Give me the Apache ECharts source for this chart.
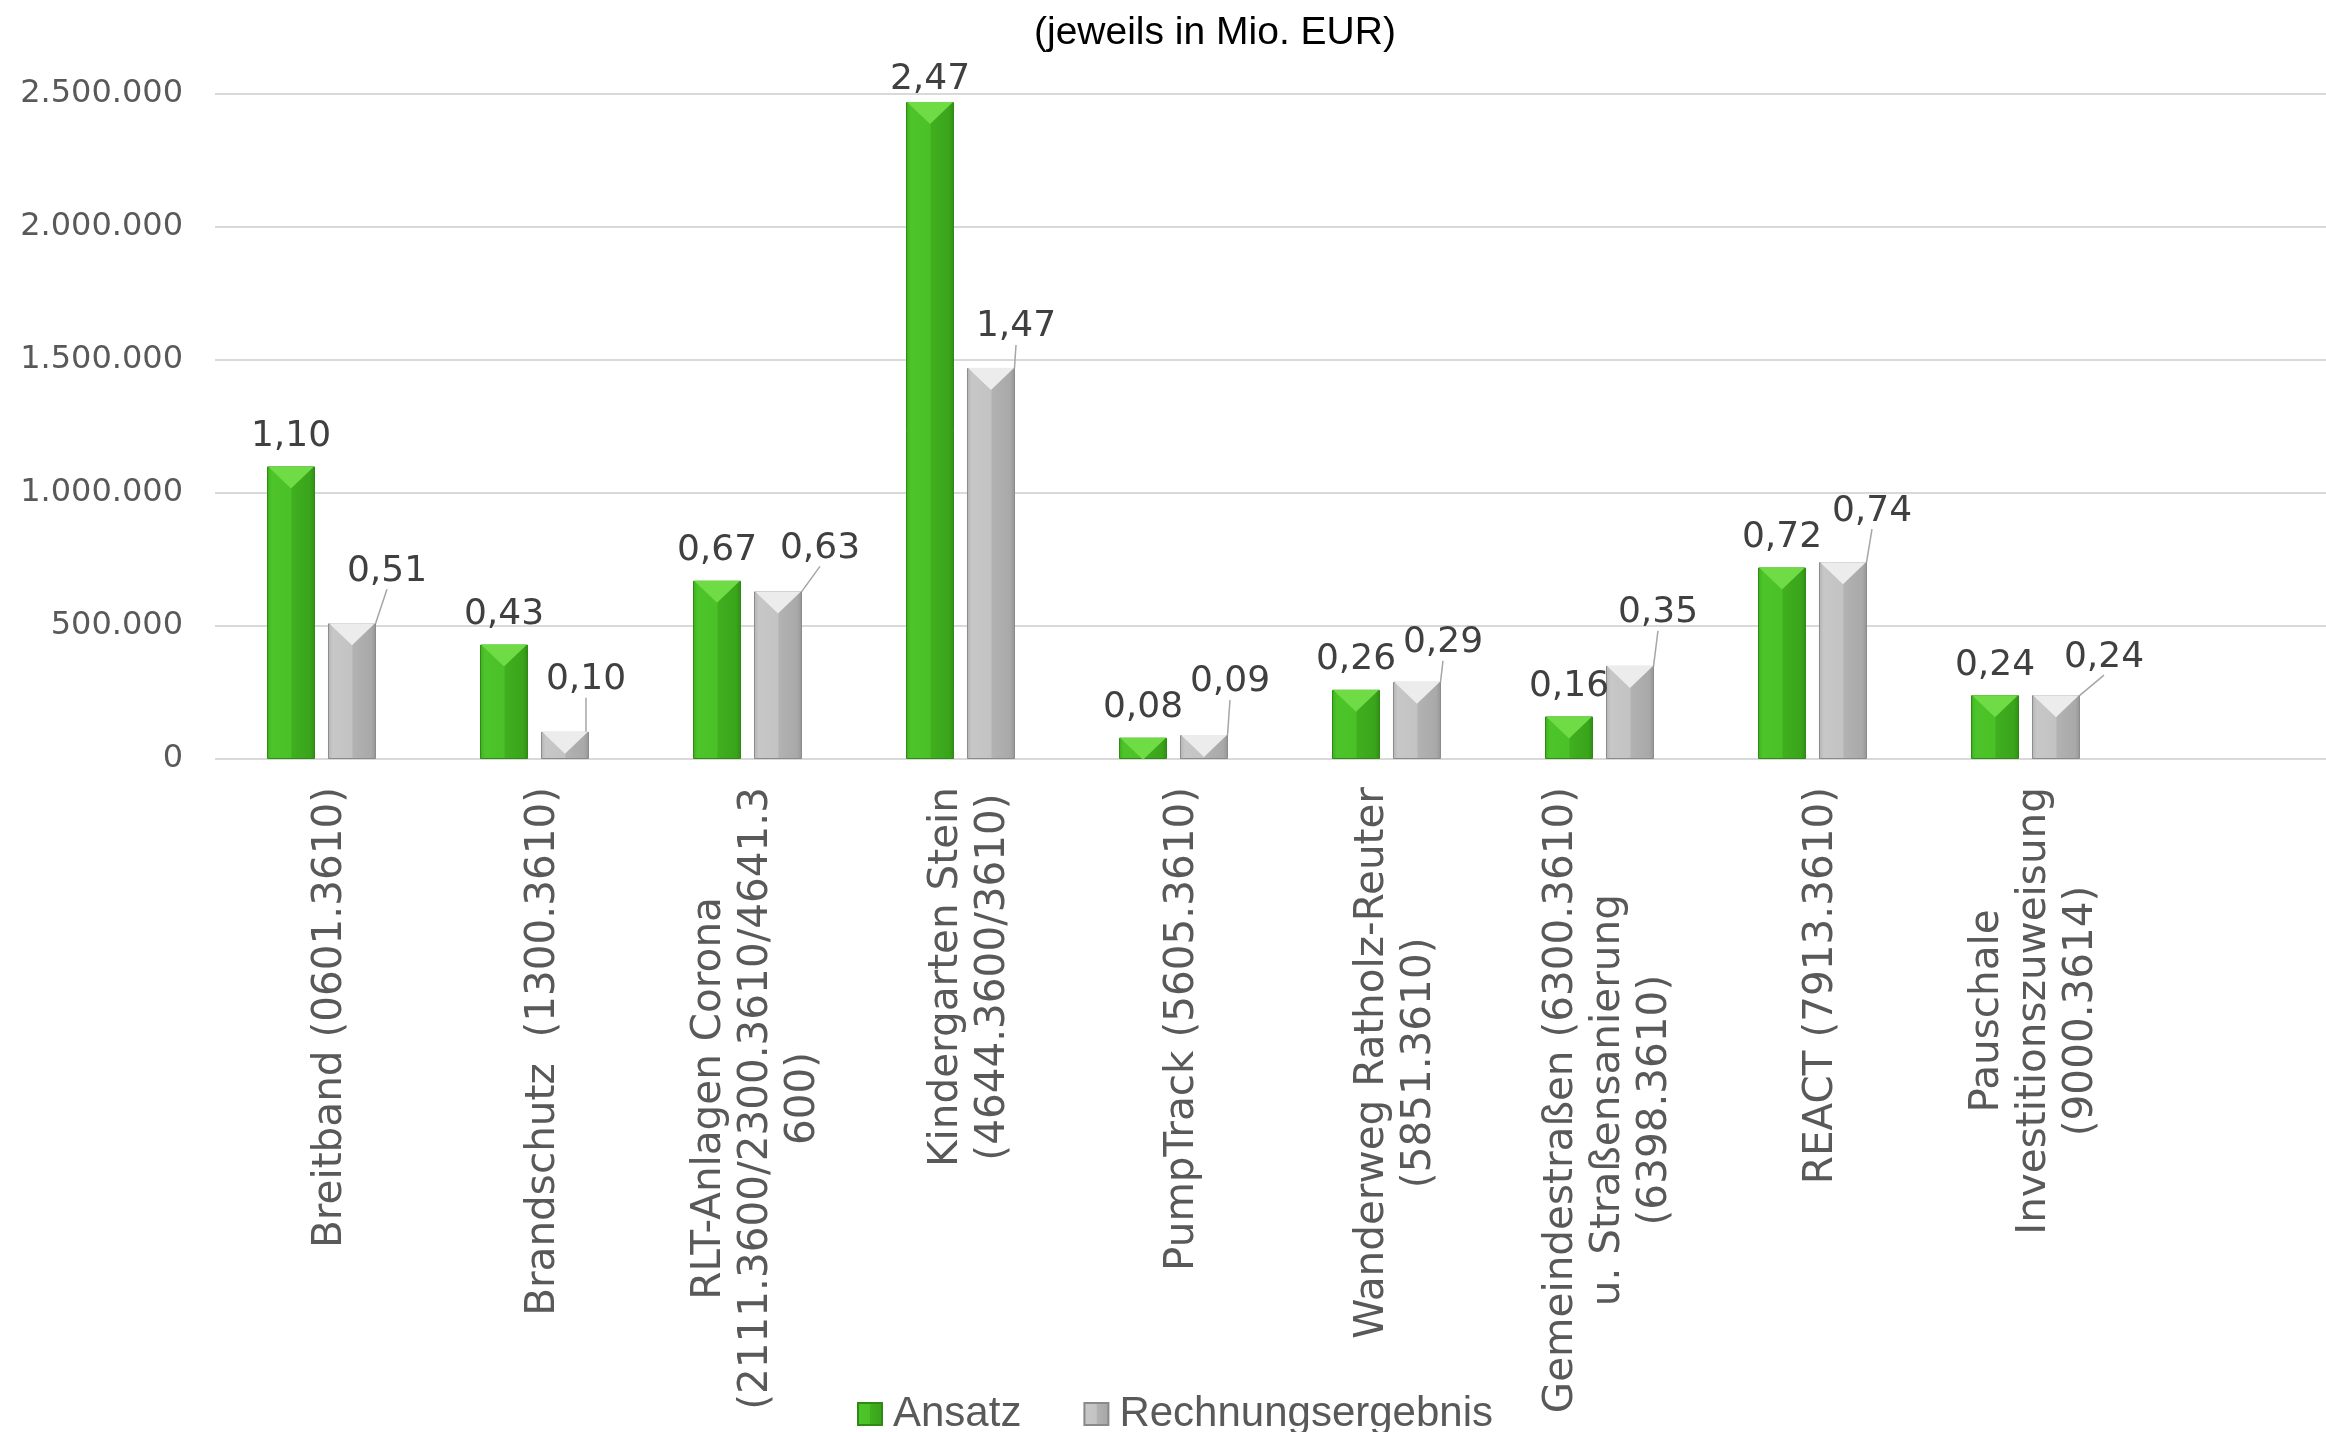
<!DOCTYPE html>
<html>
<head>
<meta charset="utf-8">
<script src="https://cdn.jsdelivr.net/npm/echarts@6/dist/echarts.min.js"></script>
<style>
  html, body { margin: 0; padding: 0; background: #ffffff; }
  #chart { width: 2326px; height: 1432px; }
</style>
</head>
<body>
<div id="chart"></div>
<script>
// ---- data ----
const categories = [
  "Breitband (0601.3610)",
  "Brandschutz  (1300.3610)",
  "RLT-Anlagen Corona\n(2111.3600/2300.3610/4641.3\n600)",
  "Kindergarten Stein\n(4644.3600/3610)",
  "PumpTrack (5605.3610)",
  "Wanderweg Ratholz-Reuter\n(5851.3610)",
  "Gemeindestraßen (6300.3610)\nu. Straßensanierung\n(6398.3610)",
  "REACT (7913.3610)",
  "Pauschale\nInvestitionszuweisung\n(9000.3614)"
];
const ansatz = [1100000, 430000, 670000, 2470000, 80000, 260000, 160000, 720000, 240000];
const rechnungsergebnis = [510000, 102000, 630000, 1470000, 90000, 290000, 350000, 740000, 240000];
const seriesNames = ["Ansatz", "Rechnungsergebnis"];
const titleText = "(jeweils in Mio. EUR)";
const yMin = 0, yMax = 2500000, yInterval = 500000;

// label shifts (label layout only)
const greenLabelShift = [[0,0],[0,0],[0,0],[0,8],[0,0],[0,0],[0,0],[0,0],[0,0]];
const grayLabelShift = [[35,-22],[21,-22],[42,-13],[25,-11],[26,-23],[26,-9],[28,-23],[29,-21],[48,-8]];

const fmtMio = v => (v / 1e6).toFixed(2).replace('.', ',');
const fmtThousands = v => String(v).replace(/\B(?=(\d{3})+(?!\d))/g, '.');

const greenGrad = new echarts.graphic.LinearGradient(0, 0, 1, 0, [
  {offset: 0, color: '#3fae1e'}, {offset: 0.1, color: '#4dc52a'},
  {offset: 0.5, color: '#4ac227'}, {offset: 0.52, color: '#40af1f'},
  {offset: 0.9, color: '#3aa41b'}, {offset: 1, color: '#2f8c16'}
]);
const grayGrad = new echarts.graphic.LinearGradient(0, 0, 1, 0, [
  {offset: 0, color: '#b3b3b3'}, {offset: 0.1, color: '#c7c7c7'},
  {offset: 0.5, color: '#c3c3c3'}, {offset: 0.52, color: '#b2b2b2'},
  {offset: 0.9, color: '#a9a9a9'}, {offset: 1, color: '#959595'}
]);

const chart = echarts.init(document.getElementById('chart'), null, {renderer: 'canvas'});

const dataLabel = {
  show: true, position: 'top', distance: 12,
  fontFamily: 'DejaVu Sans', fontSize: 36, color: '#404040',
  formatter: p => fmtMio(p.value)
};

chart.setOption({
  animation: false,
  backgroundColor: '#ffffff',
  title: {
    text: titleText, left: 1034, top: 14, padding: 0,
    textStyle: {fontFamily: 'Liberation Sans', fontSize: 39, fontWeight: 'normal', color: '#000000'}
  },
  legend: {
    data: seriesNames, left: 852, top: 1388, icon: 'rect',
    itemWidth: 24, itemHeight: 22, itemGap: 62,
    textStyle: {fontFamily: 'Liberation Sans', fontSize: 42, color: '#595959', padding: [0, 0, 0, 6]}
  },
  grid: [
    {left: 215, right: 0, top: 94, bottom: 673, containLabel: false},
    {left: 215, width: 1917, top: 94, bottom: 673, containLabel: false}
  ],
  xAxis: [
    {gridIndex: 0, type: 'value', show: false, min: 0, max: 1},
    {
      gridIndex: 1, type: 'category', data: categories,
      axisLine: {show: false},
      axisTick: {show: false},
      axisLabel: {
        interval: 0, rotate: 90, margin: 28, padding: [18, 0, 0, 0],
        formatter: v => v.split('\n').map(l => '{c|' + l + '}').join('\n'),
        rich: {c: {fontFamily: 'DejaVu Sans', fontSize: 40.5, lineHeight: 47, color: '#595959', align: 'center'}}
      }
    }
  ],
  yAxis: [
    {
      gridIndex: 0, type: 'value', min: yMin, max: yMax, interval: yInterval,
      axisLine: {show: false}, axisTick: {show: false},
      splitLine: {lineStyle: {color: '#d9d9d9', width: 2}},
      axisLabel: {fontFamily: 'DejaVu Sans', fontSize: 32, color: '#595959', margin: 32, padding: [6, 0, 0, 0], formatter: fmtThousands}
    },
    {
      gridIndex: 1, type: 'value', min: yMin, max: yMax, interval: yInterval,
      axisLine: {show: false}, axisTick: {show: false}, axisLabel: {show: false},
      splitLine: {show: false}
    }
  ],
  series: [
    {
      name: seriesNames[0], type: 'bar', xAxisIndex: 1, yAxisIndex: 1, data: ansatz, barWidth: 48, barGap: '27%',
      itemStyle: {color: greenGrad, borderColor: '#2e8a14', borderWidth: 1},
      label: dataLabel,
      labelLayout: p => ({dx: greenLabelShift[p.dataIndex][0], dy: greenLabelShift[p.dataIndex][1]})
    },
    {
      name: seriesNames[1], type: 'bar', xAxisIndex: 1, yAxisIndex: 1, data: rechnungsergebnis, barWidth: 48, barGap: '27%',
      itemStyle: {color: grayGrad, borderColor: '#8a8a8a', borderWidth: 1},
      label: dataLabel,
      labelLine: {show: true, lineStyle: {color: '#a6a6a6', width: 1.5}},
      labelLayout: p => ({dx: grayLabelShift[p.dataIndex][0], dy: grayLabelShift[p.dataIndex][1]})
    },
    {
      type: 'pictorialBar', xAxisIndex: 1, yAxisIndex: 1, data: ansatz, barWidth: 48, barGap: '27%', silent: true, z: 3,
      symbol: 'triangle', symbolRotate: 180, symbolSize: [46, 22], symbolPosition: 'end',
      itemStyle: {color: '#6fdc46'}
    },
    {
      type: 'pictorialBar', xAxisIndex: 1, yAxisIndex: 1, data: rechnungsergebnis, barWidth: 48, barGap: '27%', silent: true, z: 3,
      symbol: 'triangle', symbolRotate: 180, symbolSize: [46, 22], symbolPosition: 'end',
      itemStyle: {color: '#ececec'}
    }
  ]
});
</script>
</body>
</html>
